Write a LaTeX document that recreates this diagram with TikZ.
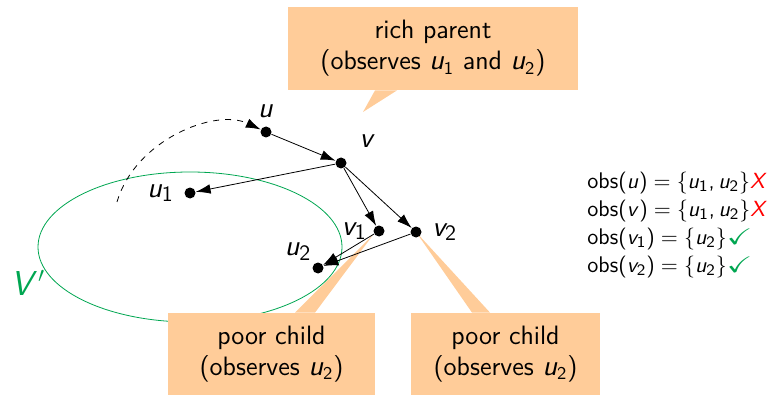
\documentclass[tikz,border=0pt]{standalone}
\usepackage{amsmath,amssymb}
\usepackage{graphicx}
\usepackage{xcolor}
\usepackage{tikz}
\usetikzlibrary{arrows.meta,positioning,calc,backgrounds}

% sans serif math, as on slides
\DeclareSymbolFont{operators}{OT1}{cmss}{m}{n}
\DeclareSymbolFont{letters}{OT1}{cmss}{m}{sl}
\DeclareMathSymbol{,}{\mathpunct}{operators}{"2C}
\renewcommand{\familydefault}{\sfdefault}

\definecolor{setgreen}{RGB}{0,166,81}
\definecolor{calloutfill}{RGB}{255,204,153}
\newcommand{\okmark}{\textcolor{setgreen}{\scalebox{1.35}[1.0]{$\checkmark$}}}
\newcommand{\badmark}{\textcolor{red}{$X$}}

\begin{document}
\begin{tikzpicture}[
    x=0.5pt, y=-0.5pt,
    vertex/.style={circle, fill=black, inner sep=0pt, minimum size=5.5pt},
    lbl/.style={font=\fontsize{15.5}{17}\selectfont, inner sep=0pt},
    callout/.style={rectangle, fill=calloutfill, align=center, font=\fontsize{13.3}{15.5}\selectfont},
    obsline/.style={anchor=west, inner sep=0pt, font=\fontsize{11.3}{14}\selectfont},
    arrow/.style={-{Latex[length=2.6mm, width=1.7mm]}, thin},
]
    \useasboundingbox (0,0) rectangle (774,395);

    % the set V'
    \draw[setgreen, thin] (190,247) ellipse [x radius=76pt, y radius=37.5pt];
    \node[setgreen, font=\fontsize{16}{18}\selectfont] (vset) at (28,283) {$V'$};

    % callouts
    \node[callout, minimum width=145pt, minimum height=41.5pt] (rich) at (433,48.5) {rich parent\\ (observes $u_1$ and $u_2$)};
    \node[callout, minimum width=103.5pt, minimum height=41pt] (poorA) at (271.5,354) {poor child\\ (observes $u_2$)};
    \node[callout, minimum width=94.5pt, minimum height=41pt] (poorB) at (505.5,354) {poor child\\ (observes $u_2$)};

    % vertices
    \node[vertex, label={[lbl, label distance=4pt]above:$u$}] (u) at (266,132) {};
    \node[vertex, label={[lbl, label distance=9pt]40:$v$}] (v) at (341,163) {};
    \node[vertex, label={[lbl, label distance=5pt]left:$u_1$}] (u1) at (190,193) {};
    \node[vertex, label={[lbl, label distance=3pt]left:$v_1$}] (v1) at (379,231) {};
    \node[vertex, label={[lbl, label distance=5pt]right:$v_2$}] (v2) at (416,232) {};
    \node[vertex, label={[lbl, label distance=2pt]130:$u_2$}] (u2) at (318,268) {};
    \coordinate (start) at (117,202);

    \begin{scope}[on background layer]
        \fill[calloutfill] ($(rich.south)+(-58,0)$) -- (363,112) -- ($(rich.south)+(-36,0)$) -- cycle;
        \fill[calloutfill] ($(poorA.north)+(23.5,0)$) -- ($(v1.center)+(-6,4)$) -- ($(poorA.north)+(43.5,0)$) -- cycle;
        \fill[calloutfill] ($(poorB.north)+(-33.5,0)$) -- (v2.center) -- ($(poorB.north)+(-15.5,0)$) -- cycle;
    \end{scope}

    \draw[arrow, dashed] (start) .. controls (135,140) and (215,108) .. (u);
    \draw[arrow] (u) -- (v);
    \draw[arrow] (v) -- (u1);
    \draw[arrow] (v) -- (v1);
    \draw[arrow] (v) -- (v2);
    \draw[arrow] (v1) -- (u2);
    \draw[arrow] (v2) -- (u2);

    % observations
    \node[obsline] (obsu) at (587,183) {obs$(u)=\{u_1,u_2\}$\badmark};
    \node[obsline] (obsv) at (587,211) {obs$(v)=\{u_1,u_2\}$\badmark};
    \node[obsline] (obsva) at (587,239) {obs$(v_1)=\{u_2\}$\okmark};
    \node[obsline] (obsvb) at (587,267) {obs$(v_2)=\{u_2\}$\okmark};
\end{tikzpicture}
\end{document}
